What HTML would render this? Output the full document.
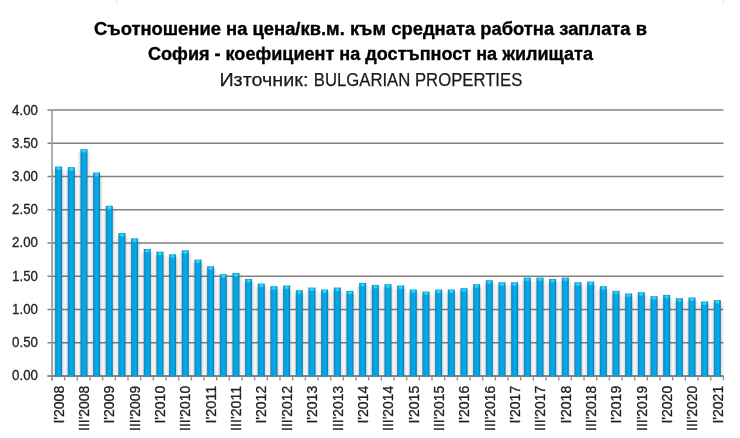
<!DOCTYPE html>
<html><head><meta charset="utf-8">
<style>
html,body{margin:0;padding:0;background:#fff;}
body{width:740px;height:438px;overflow:hidden;position:relative;}
svg{position:absolute;left:0;top:0;will-change:transform;}
text{font-family:"Liberation Sans",sans-serif;}
</style></head><body>
<svg width="740" height="438" viewBox="0 0 740 438">
<defs>
<linearGradient id="bar" x1="0" y1="0" x2="1" y2="0">
<stop offset="0" stop-color="#1f7fae"/>
<stop offset="0.2" stop-color="#0a9ad6"/>
<stop offset="0.45" stop-color="#02aaea"/>
<stop offset="0.7" stop-color="#03a8e8"/>
<stop offset="0.88" stop-color="#0b8cc4"/>
<stop offset="1" stop-color="#1c72a0"/>
</linearGradient>
<radialGradient id="cap" cx="0.5" cy="0.5" r="0.5">
<stop offset="0" stop-color="#34e6fc"/>
<stop offset="0.5" stop-color="#2cd8f6" stop-opacity="0.8"/>
<stop offset="1" stop-color="#20c8f0" stop-opacity="0"/>
</radialGradient>
<filter id="sh" x="-1" y="-0.1" width="3" height="1.2"><feGaussianBlur stdDeviation="1.6"/></filter>
</defs>

<text x="370.5" y="34.8" text-anchor="middle" font-weight="bold" font-size="18" fill="#000" stroke="#000" stroke-width="0.35" textLength="553" lengthAdjust="spacingAndGlyphs">Съотношение на цена/кв.м. към средната работна заплата в</text>
<text x="370.5" y="60.4" text-anchor="middle" font-weight="bold" font-size="18" fill="#000" stroke="#000" stroke-width="0.35" textLength="445" lengthAdjust="spacingAndGlyphs">София - коефициент на достъпност на жилищата</text>
<text x="219.4" y="85.7" font-size="18.5" fill="#1a1a1a" stroke="#1a1a1a" stroke-width="0.25" textLength="89" lengthAdjust="spacingAndGlyphs">Източник:</text>
<text x="313.8" y="85.7" font-size="18.5" fill="#1a1a1a" stroke="#1a1a1a" stroke-width="0.25" textLength="208.5" lengthAdjust="spacingAndGlyphs">BULGARIAN PROPERTIES</text>
<line x1="47.5" y1="376.00" x2="723.4" y2="376.00" stroke="#858080" stroke-width="1.3"/>
<text x="37.9" y="380.15" text-anchor="end" font-size="14.2" fill="#222" stroke="#222" stroke-width="0.3" textLength="25.8" lengthAdjust="spacingAndGlyphs">0.00</text>
<line x1="47.5" y1="342.75" x2="723.4" y2="342.75" stroke="#858080" stroke-width="1.3"/>
<text x="37.9" y="346.98" text-anchor="end" font-size="14.2" fill="#222" stroke="#222" stroke-width="0.3" textLength="25.8" lengthAdjust="spacingAndGlyphs">0.50</text>
<line x1="47.5" y1="309.50" x2="723.4" y2="309.50" stroke="#858080" stroke-width="1.3"/>
<text x="37.9" y="313.80" text-anchor="end" font-size="14.2" fill="#222" stroke="#222" stroke-width="0.3" textLength="25.8" lengthAdjust="spacingAndGlyphs">1.00</text>
<line x1="47.5" y1="276.25" x2="723.4" y2="276.25" stroke="#858080" stroke-width="1.3"/>
<text x="37.9" y="280.62" text-anchor="end" font-size="14.2" fill="#222" stroke="#222" stroke-width="0.3" textLength="25.8" lengthAdjust="spacingAndGlyphs">1.50</text>
<line x1="47.5" y1="243.00" x2="723.4" y2="243.00" stroke="#858080" stroke-width="1.3"/>
<text x="37.9" y="247.45" text-anchor="end" font-size="14.2" fill="#222" stroke="#222" stroke-width="0.3" textLength="25.8" lengthAdjust="spacingAndGlyphs">2.00</text>
<line x1="47.5" y1="209.75" x2="723.4" y2="209.75" stroke="#858080" stroke-width="1.3"/>
<text x="37.9" y="214.28" text-anchor="end" font-size="14.2" fill="#222" stroke="#222" stroke-width="0.3" textLength="25.8" lengthAdjust="spacingAndGlyphs">2.50</text>
<line x1="47.5" y1="176.50" x2="723.4" y2="176.50" stroke="#858080" stroke-width="1.3"/>
<text x="37.9" y="181.10" text-anchor="end" font-size="14.2" fill="#222" stroke="#222" stroke-width="0.3" textLength="25.8" lengthAdjust="spacingAndGlyphs">3.00</text>
<line x1="47.5" y1="143.25" x2="723.4" y2="143.25" stroke="#858080" stroke-width="1.3"/>
<text x="37.9" y="147.93" text-anchor="end" font-size="14.2" fill="#222" stroke="#222" stroke-width="0.3" textLength="25.8" lengthAdjust="spacingAndGlyphs">3.50</text>
<line x1="47.5" y1="110.00" x2="723.4" y2="110.00" stroke="#858080" stroke-width="1.3"/>
<text x="37.9" y="114.75" text-anchor="end" font-size="14.2" fill="#222" stroke="#222" stroke-width="0.3" textLength="25.8" lengthAdjust="spacingAndGlyphs">4.00</text>
<line x1="52.00" y1="376.0" x2="52.00" y2="380.5" stroke="#8f8f8f" stroke-width="1.3"/>
<line x1="64.67" y1="376.0" x2="64.67" y2="380.5" stroke="#8f8f8f" stroke-width="1.3"/>
<line x1="77.34" y1="376.0" x2="77.34" y2="380.5" stroke="#8f8f8f" stroke-width="1.3"/>
<line x1="90.00" y1="376.0" x2="90.00" y2="380.5" stroke="#8f8f8f" stroke-width="1.3"/>
<line x1="102.67" y1="376.0" x2="102.67" y2="380.5" stroke="#8f8f8f" stroke-width="1.3"/>
<line x1="115.34" y1="376.0" x2="115.34" y2="380.5" stroke="#8f8f8f" stroke-width="1.3"/>
<line x1="128.01" y1="376.0" x2="128.01" y2="380.5" stroke="#8f8f8f" stroke-width="1.3"/>
<line x1="140.68" y1="376.0" x2="140.68" y2="380.5" stroke="#8f8f8f" stroke-width="1.3"/>
<line x1="153.34" y1="376.0" x2="153.34" y2="380.5" stroke="#8f8f8f" stroke-width="1.3"/>
<line x1="166.01" y1="376.0" x2="166.01" y2="380.5" stroke="#8f8f8f" stroke-width="1.3"/>
<line x1="178.68" y1="376.0" x2="178.68" y2="380.5" stroke="#8f8f8f" stroke-width="1.3"/>
<line x1="191.35" y1="376.0" x2="191.35" y2="380.5" stroke="#8f8f8f" stroke-width="1.3"/>
<line x1="204.02" y1="376.0" x2="204.02" y2="380.5" stroke="#8f8f8f" stroke-width="1.3"/>
<line x1="216.68" y1="376.0" x2="216.68" y2="380.5" stroke="#8f8f8f" stroke-width="1.3"/>
<line x1="229.35" y1="376.0" x2="229.35" y2="380.5" stroke="#8f8f8f" stroke-width="1.3"/>
<line x1="242.02" y1="376.0" x2="242.02" y2="380.5" stroke="#8f8f8f" stroke-width="1.3"/>
<line x1="254.69" y1="376.0" x2="254.69" y2="380.5" stroke="#8f8f8f" stroke-width="1.3"/>
<line x1="267.36" y1="376.0" x2="267.36" y2="380.5" stroke="#8f8f8f" stroke-width="1.3"/>
<line x1="280.02" y1="376.0" x2="280.02" y2="380.5" stroke="#8f8f8f" stroke-width="1.3"/>
<line x1="292.69" y1="376.0" x2="292.69" y2="380.5" stroke="#8f8f8f" stroke-width="1.3"/>
<line x1="305.36" y1="376.0" x2="305.36" y2="380.5" stroke="#8f8f8f" stroke-width="1.3"/>
<line x1="318.03" y1="376.0" x2="318.03" y2="380.5" stroke="#8f8f8f" stroke-width="1.3"/>
<line x1="330.70" y1="376.0" x2="330.70" y2="380.5" stroke="#8f8f8f" stroke-width="1.3"/>
<line x1="343.36" y1="376.0" x2="343.36" y2="380.5" stroke="#8f8f8f" stroke-width="1.3"/>
<line x1="356.03" y1="376.0" x2="356.03" y2="380.5" stroke="#8f8f8f" stroke-width="1.3"/>
<line x1="368.70" y1="376.0" x2="368.70" y2="380.5" stroke="#8f8f8f" stroke-width="1.3"/>
<line x1="381.37" y1="376.0" x2="381.37" y2="380.5" stroke="#8f8f8f" stroke-width="1.3"/>
<line x1="394.04" y1="376.0" x2="394.04" y2="380.5" stroke="#8f8f8f" stroke-width="1.3"/>
<line x1="406.70" y1="376.0" x2="406.70" y2="380.5" stroke="#8f8f8f" stroke-width="1.3"/>
<line x1="419.37" y1="376.0" x2="419.37" y2="380.5" stroke="#8f8f8f" stroke-width="1.3"/>
<line x1="432.04" y1="376.0" x2="432.04" y2="380.5" stroke="#8f8f8f" stroke-width="1.3"/>
<line x1="444.71" y1="376.0" x2="444.71" y2="380.5" stroke="#8f8f8f" stroke-width="1.3"/>
<line x1="457.38" y1="376.0" x2="457.38" y2="380.5" stroke="#8f8f8f" stroke-width="1.3"/>
<line x1="470.04" y1="376.0" x2="470.04" y2="380.5" stroke="#8f8f8f" stroke-width="1.3"/>
<line x1="482.71" y1="376.0" x2="482.71" y2="380.5" stroke="#8f8f8f" stroke-width="1.3"/>
<line x1="495.38" y1="376.0" x2="495.38" y2="380.5" stroke="#8f8f8f" stroke-width="1.3"/>
<line x1="508.05" y1="376.0" x2="508.05" y2="380.5" stroke="#8f8f8f" stroke-width="1.3"/>
<line x1="520.72" y1="376.0" x2="520.72" y2="380.5" stroke="#8f8f8f" stroke-width="1.3"/>
<line x1="533.38" y1="376.0" x2="533.38" y2="380.5" stroke="#8f8f8f" stroke-width="1.3"/>
<line x1="546.05" y1="376.0" x2="546.05" y2="380.5" stroke="#8f8f8f" stroke-width="1.3"/>
<line x1="558.72" y1="376.0" x2="558.72" y2="380.5" stroke="#8f8f8f" stroke-width="1.3"/>
<line x1="571.39" y1="376.0" x2="571.39" y2="380.5" stroke="#8f8f8f" stroke-width="1.3"/>
<line x1="584.06" y1="376.0" x2="584.06" y2="380.5" stroke="#8f8f8f" stroke-width="1.3"/>
<line x1="596.72" y1="376.0" x2="596.72" y2="380.5" stroke="#8f8f8f" stroke-width="1.3"/>
<line x1="609.39" y1="376.0" x2="609.39" y2="380.5" stroke="#8f8f8f" stroke-width="1.3"/>
<line x1="622.06" y1="376.0" x2="622.06" y2="380.5" stroke="#8f8f8f" stroke-width="1.3"/>
<line x1="634.73" y1="376.0" x2="634.73" y2="380.5" stroke="#8f8f8f" stroke-width="1.3"/>
<line x1="647.40" y1="376.0" x2="647.40" y2="380.5" stroke="#8f8f8f" stroke-width="1.3"/>
<line x1="660.06" y1="376.0" x2="660.06" y2="380.5" stroke="#8f8f8f" stroke-width="1.3"/>
<line x1="672.73" y1="376.0" x2="672.73" y2="380.5" stroke="#8f8f8f" stroke-width="1.3"/>
<line x1="685.40" y1="376.0" x2="685.40" y2="380.5" stroke="#8f8f8f" stroke-width="1.3"/>
<line x1="698.07" y1="376.0" x2="698.07" y2="380.5" stroke="#8f8f8f" stroke-width="1.3"/>
<line x1="710.74" y1="376.0" x2="710.74" y2="380.5" stroke="#8f8f8f" stroke-width="1.3"/>
<line x1="723.40" y1="376.0" x2="723.40" y2="380.5" stroke="#8f8f8f" stroke-width="1.3"/>
<line x1="52.0" y1="110" x2="52.0" y2="380.5" stroke="#9a9a9a" stroke-width="1.6"/>
<line x1="47.5" y1="376.0" x2="723.4" y2="376.0" stroke="#8a8585" stroke-width="1.4"/>
<line x1="116.5" y1="0" x2="116.5" y2="4" stroke="#e2e2e2" stroke-width="1"/>
<line x1="723.5" y1="0" x2="723.5" y2="4" stroke="#e2e2e2" stroke-width="1"/>
<rect x="54.10" y="169.53" width="9.00" height="206.47" fill="#000" opacity="0.2" filter="url(#sh)"/>
<rect x="66.77" y="170.19" width="9.00" height="205.81" fill="#000" opacity="0.2" filter="url(#sh)"/>
<rect x="79.44" y="152.23" width="9.00" height="223.77" fill="#000" opacity="0.2" filter="url(#sh)"/>
<rect x="92.10" y="175.51" width="9.00" height="200.49" fill="#000" opacity="0.2" filter="url(#sh)"/>
<rect x="104.77" y="208.76" width="9.00" height="167.24" fill="#000" opacity="0.2" filter="url(#sh)"/>
<rect x="117.44" y="236.03" width="9.00" height="139.97" fill="#000" opacity="0.2" filter="url(#sh)"/>
<rect x="130.11" y="241.34" width="9.00" height="134.66" fill="#000" opacity="0.2" filter="url(#sh)"/>
<rect x="142.78" y="251.99" width="9.00" height="124.01" fill="#000" opacity="0.2" filter="url(#sh)"/>
<rect x="155.44" y="254.64" width="9.00" height="121.36" fill="#000" opacity="0.2" filter="url(#sh)"/>
<rect x="168.11" y="257.31" width="9.00" height="118.69" fill="#000" opacity="0.2" filter="url(#sh)"/>
<rect x="180.78" y="253.31" width="9.00" height="122.69" fill="#000" opacity="0.2" filter="url(#sh)"/>
<rect x="193.45" y="262.62" width="9.00" height="113.38" fill="#000" opacity="0.2" filter="url(#sh)"/>
<rect x="206.12" y="269.27" width="9.00" height="106.73" fill="#000" opacity="0.2" filter="url(#sh)"/>
<rect x="218.78" y="277.25" width="9.00" height="98.75" fill="#000" opacity="0.2" filter="url(#sh)"/>
<rect x="231.45" y="275.93" width="9.00" height="100.07" fill="#000" opacity="0.2" filter="url(#sh)"/>
<rect x="244.12" y="281.91" width="9.00" height="94.09" fill="#000" opacity="0.2" filter="url(#sh)"/>
<rect x="256.79" y="286.56" width="9.00" height="89.44" fill="#000" opacity="0.2" filter="url(#sh)"/>
<rect x="269.46" y="289.23" width="9.00" height="86.77" fill="#000" opacity="0.2" filter="url(#sh)"/>
<rect x="282.12" y="288.56" width="9.00" height="87.44" fill="#000" opacity="0.2" filter="url(#sh)"/>
<rect x="294.79" y="293.22" width="9.00" height="82.78" fill="#000" opacity="0.2" filter="url(#sh)"/>
<rect x="307.46" y="290.56" width="9.00" height="85.44" fill="#000" opacity="0.2" filter="url(#sh)"/>
<rect x="320.13" y="292.55" width="9.00" height="83.45" fill="#000" opacity="0.2" filter="url(#sh)"/>
<rect x="332.80" y="290.56" width="9.00" height="85.44" fill="#000" opacity="0.2" filter="url(#sh)"/>
<rect x="345.46" y="293.88" width="9.00" height="82.12" fill="#000" opacity="0.2" filter="url(#sh)"/>
<rect x="358.13" y="285.90" width="9.00" height="90.10" fill="#000" opacity="0.2" filter="url(#sh)"/>
<rect x="370.80" y="287.89" width="9.00" height="88.11" fill="#000" opacity="0.2" filter="url(#sh)"/>
<rect x="383.47" y="287.23" width="9.00" height="88.77" fill="#000" opacity="0.2" filter="url(#sh)"/>
<rect x="396.14" y="288.56" width="9.00" height="87.44" fill="#000" opacity="0.2" filter="url(#sh)"/>
<rect x="408.80" y="292.55" width="9.00" height="83.45" fill="#000" opacity="0.2" filter="url(#sh)"/>
<rect x="421.47" y="294.55" width="9.00" height="81.45" fill="#000" opacity="0.2" filter="url(#sh)"/>
<rect x="434.14" y="292.55" width="9.00" height="83.45" fill="#000" opacity="0.2" filter="url(#sh)"/>
<rect x="446.81" y="292.55" width="9.00" height="83.45" fill="#000" opacity="0.2" filter="url(#sh)"/>
<rect x="459.48" y="291.22" width="9.00" height="84.78" fill="#000" opacity="0.2" filter="url(#sh)"/>
<rect x="472.14" y="287.23" width="9.00" height="88.77" fill="#000" opacity="0.2" filter="url(#sh)"/>
<rect x="484.81" y="283.24" width="9.00" height="92.76" fill="#000" opacity="0.2" filter="url(#sh)"/>
<rect x="497.48" y="285.24" width="9.00" height="90.76" fill="#000" opacity="0.2" filter="url(#sh)"/>
<rect x="510.15" y="285.24" width="9.00" height="90.76" fill="#000" opacity="0.2" filter="url(#sh)"/>
<rect x="522.82" y="280.58" width="9.00" height="95.42" fill="#000" opacity="0.2" filter="url(#sh)"/>
<rect x="535.48" y="280.58" width="9.00" height="95.42" fill="#000" opacity="0.2" filter="url(#sh)"/>
<rect x="548.15" y="281.91" width="9.00" height="94.09" fill="#000" opacity="0.2" filter="url(#sh)"/>
<rect x="560.82" y="280.58" width="9.00" height="95.42" fill="#000" opacity="0.2" filter="url(#sh)"/>
<rect x="573.49" y="285.24" width="9.00" height="90.76" fill="#000" opacity="0.2" filter="url(#sh)"/>
<rect x="586.16" y="284.57" width="9.00" height="91.43" fill="#000" opacity="0.2" filter="url(#sh)"/>
<rect x="598.82" y="289.23" width="9.00" height="86.77" fill="#000" opacity="0.2" filter="url(#sh)"/>
<rect x="611.49" y="293.88" width="9.00" height="82.12" fill="#000" opacity="0.2" filter="url(#sh)"/>
<rect x="624.16" y="296.54" width="9.00" height="79.46" fill="#000" opacity="0.2" filter="url(#sh)"/>
<rect x="636.83" y="295.21" width="9.00" height="80.79" fill="#000" opacity="0.2" filter="url(#sh)"/>
<rect x="649.50" y="299.20" width="9.00" height="76.80" fill="#000" opacity="0.2" filter="url(#sh)"/>
<rect x="662.16" y="297.87" width="9.00" height="78.13" fill="#000" opacity="0.2" filter="url(#sh)"/>
<rect x="674.83" y="301.19" width="9.00" height="74.81" fill="#000" opacity="0.2" filter="url(#sh)"/>
<rect x="687.50" y="300.53" width="9.00" height="75.47" fill="#000" opacity="0.2" filter="url(#sh)"/>
<rect x="700.17" y="304.52" width="9.00" height="71.48" fill="#000" opacity="0.2" filter="url(#sh)"/>
<rect x="712.84" y="303.19" width="9.00" height="72.81" fill="#000" opacity="0.2" filter="url(#sh)"/>
<rect x="55.10" y="166.53" width="7.00" height="209.97" fill="url(#bar)"/>
<ellipse cx="58.60" cy="168.53" rx="3.2" ry="2.2" fill="url(#cap)"/>
<rect x="67.77" y="167.19" width="7.00" height="209.31" fill="url(#bar)"/>
<ellipse cx="71.27" cy="169.19" rx="3.2" ry="2.2" fill="url(#cap)"/>
<rect x="80.44" y="149.23" width="7.00" height="227.27" fill="url(#bar)"/>
<ellipse cx="83.94" cy="151.23" rx="3.2" ry="2.2" fill="url(#cap)"/>
<rect x="93.10" y="172.51" width="7.00" height="203.99" fill="url(#bar)"/>
<ellipse cx="96.60" cy="174.51" rx="3.2" ry="2.2" fill="url(#cap)"/>
<rect x="105.77" y="205.76" width="7.00" height="170.74" fill="url(#bar)"/>
<ellipse cx="109.27" cy="207.76" rx="3.2" ry="2.2" fill="url(#cap)"/>
<rect x="118.44" y="233.03" width="7.00" height="143.47" fill="url(#bar)"/>
<ellipse cx="121.94" cy="235.03" rx="3.2" ry="2.2" fill="url(#cap)"/>
<rect x="131.11" y="238.34" width="7.00" height="138.16" fill="url(#bar)"/>
<ellipse cx="134.61" cy="240.34" rx="3.2" ry="2.2" fill="url(#cap)"/>
<rect x="143.78" y="248.99" width="7.00" height="127.51" fill="url(#bar)"/>
<ellipse cx="147.28" cy="250.99" rx="3.2" ry="2.2" fill="url(#cap)"/>
<rect x="156.44" y="251.64" width="7.00" height="124.86" fill="url(#bar)"/>
<ellipse cx="159.94" cy="253.64" rx="3.2" ry="2.2" fill="url(#cap)"/>
<rect x="169.11" y="254.31" width="7.00" height="122.19" fill="url(#bar)"/>
<ellipse cx="172.61" cy="256.31" rx="3.2" ry="2.2" fill="url(#cap)"/>
<rect x="181.78" y="250.31" width="7.00" height="126.19" fill="url(#bar)"/>
<ellipse cx="185.28" cy="252.31" rx="3.2" ry="2.2" fill="url(#cap)"/>
<rect x="194.45" y="259.62" width="7.00" height="116.88" fill="url(#bar)"/>
<ellipse cx="197.95" cy="261.62" rx="3.2" ry="2.2" fill="url(#cap)"/>
<rect x="207.12" y="266.27" width="7.00" height="110.23" fill="url(#bar)"/>
<ellipse cx="210.62" cy="268.27" rx="3.2" ry="2.2" fill="url(#cap)"/>
<rect x="219.78" y="274.25" width="7.00" height="102.25" fill="url(#bar)"/>
<ellipse cx="223.28" cy="276.25" rx="3.2" ry="2.2" fill="url(#cap)"/>
<rect x="232.45" y="272.93" width="7.00" height="103.57" fill="url(#bar)"/>
<ellipse cx="235.95" cy="274.93" rx="3.2" ry="2.2" fill="url(#cap)"/>
<rect x="245.12" y="278.91" width="7.00" height="97.59" fill="url(#bar)"/>
<ellipse cx="248.62" cy="280.91" rx="3.2" ry="2.2" fill="url(#cap)"/>
<rect x="257.79" y="283.56" width="7.00" height="92.94" fill="url(#bar)"/>
<ellipse cx="261.29" cy="285.56" rx="3.2" ry="2.2" fill="url(#cap)"/>
<rect x="270.46" y="286.23" width="7.00" height="90.27" fill="url(#bar)"/>
<ellipse cx="273.96" cy="288.23" rx="3.2" ry="2.2" fill="url(#cap)"/>
<rect x="283.12" y="285.56" width="7.00" height="90.94" fill="url(#bar)"/>
<ellipse cx="286.62" cy="287.56" rx="3.2" ry="2.2" fill="url(#cap)"/>
<rect x="295.79" y="290.22" width="7.00" height="86.28" fill="url(#bar)"/>
<ellipse cx="299.29" cy="292.22" rx="3.2" ry="2.2" fill="url(#cap)"/>
<rect x="308.46" y="287.56" width="7.00" height="88.94" fill="url(#bar)"/>
<ellipse cx="311.96" cy="289.56" rx="3.2" ry="2.2" fill="url(#cap)"/>
<rect x="321.13" y="289.55" width="7.00" height="86.95" fill="url(#bar)"/>
<ellipse cx="324.63" cy="291.55" rx="3.2" ry="2.2" fill="url(#cap)"/>
<rect x="333.80" y="287.56" width="7.00" height="88.94" fill="url(#bar)"/>
<ellipse cx="337.30" cy="289.56" rx="3.2" ry="2.2" fill="url(#cap)"/>
<rect x="346.46" y="290.88" width="7.00" height="85.62" fill="url(#bar)"/>
<ellipse cx="349.96" cy="292.88" rx="3.2" ry="2.2" fill="url(#cap)"/>
<rect x="359.13" y="282.90" width="7.00" height="93.60" fill="url(#bar)"/>
<ellipse cx="362.63" cy="284.90" rx="3.2" ry="2.2" fill="url(#cap)"/>
<rect x="371.80" y="284.89" width="7.00" height="91.61" fill="url(#bar)"/>
<ellipse cx="375.30" cy="286.89" rx="3.2" ry="2.2" fill="url(#cap)"/>
<rect x="384.47" y="284.23" width="7.00" height="92.27" fill="url(#bar)"/>
<ellipse cx="387.97" cy="286.23" rx="3.2" ry="2.2" fill="url(#cap)"/>
<rect x="397.14" y="285.56" width="7.00" height="90.94" fill="url(#bar)"/>
<ellipse cx="400.64" cy="287.56" rx="3.2" ry="2.2" fill="url(#cap)"/>
<rect x="409.80" y="289.55" width="7.00" height="86.95" fill="url(#bar)"/>
<ellipse cx="413.30" cy="291.55" rx="3.2" ry="2.2" fill="url(#cap)"/>
<rect x="422.47" y="291.55" width="7.00" height="84.95" fill="url(#bar)"/>
<ellipse cx="425.97" cy="293.55" rx="3.2" ry="2.2" fill="url(#cap)"/>
<rect x="435.14" y="289.55" width="7.00" height="86.95" fill="url(#bar)"/>
<ellipse cx="438.64" cy="291.55" rx="3.2" ry="2.2" fill="url(#cap)"/>
<rect x="447.81" y="289.55" width="7.00" height="86.95" fill="url(#bar)"/>
<ellipse cx="451.31" cy="291.55" rx="3.2" ry="2.2" fill="url(#cap)"/>
<rect x="460.48" y="288.22" width="7.00" height="88.28" fill="url(#bar)"/>
<ellipse cx="463.98" cy="290.22" rx="3.2" ry="2.2" fill="url(#cap)"/>
<rect x="473.14" y="284.23" width="7.00" height="92.27" fill="url(#bar)"/>
<ellipse cx="476.64" cy="286.23" rx="3.2" ry="2.2" fill="url(#cap)"/>
<rect x="485.81" y="280.24" width="7.00" height="96.26" fill="url(#bar)"/>
<ellipse cx="489.31" cy="282.24" rx="3.2" ry="2.2" fill="url(#cap)"/>
<rect x="498.48" y="282.24" width="7.00" height="94.26" fill="url(#bar)"/>
<ellipse cx="501.98" cy="284.24" rx="3.2" ry="2.2" fill="url(#cap)"/>
<rect x="511.15" y="282.24" width="7.00" height="94.26" fill="url(#bar)"/>
<ellipse cx="514.65" cy="284.24" rx="3.2" ry="2.2" fill="url(#cap)"/>
<rect x="523.82" y="277.58" width="7.00" height="98.92" fill="url(#bar)"/>
<ellipse cx="527.32" cy="279.58" rx="3.2" ry="2.2" fill="url(#cap)"/>
<rect x="536.48" y="277.58" width="7.00" height="98.92" fill="url(#bar)"/>
<ellipse cx="539.98" cy="279.58" rx="3.2" ry="2.2" fill="url(#cap)"/>
<rect x="549.15" y="278.91" width="7.00" height="97.59" fill="url(#bar)"/>
<ellipse cx="552.65" cy="280.91" rx="3.2" ry="2.2" fill="url(#cap)"/>
<rect x="561.82" y="277.58" width="7.00" height="98.92" fill="url(#bar)"/>
<ellipse cx="565.32" cy="279.58" rx="3.2" ry="2.2" fill="url(#cap)"/>
<rect x="574.49" y="282.24" width="7.00" height="94.26" fill="url(#bar)"/>
<ellipse cx="577.99" cy="284.24" rx="3.2" ry="2.2" fill="url(#cap)"/>
<rect x="587.16" y="281.57" width="7.00" height="94.93" fill="url(#bar)"/>
<ellipse cx="590.66" cy="283.57" rx="3.2" ry="2.2" fill="url(#cap)"/>
<rect x="599.82" y="286.23" width="7.00" height="90.27" fill="url(#bar)"/>
<ellipse cx="603.32" cy="288.23" rx="3.2" ry="2.2" fill="url(#cap)"/>
<rect x="612.49" y="290.88" width="7.00" height="85.62" fill="url(#bar)"/>
<ellipse cx="615.99" cy="292.88" rx="3.2" ry="2.2" fill="url(#cap)"/>
<rect x="625.16" y="293.54" width="7.00" height="82.96" fill="url(#bar)"/>
<ellipse cx="628.66" cy="295.54" rx="3.2" ry="2.2" fill="url(#cap)"/>
<rect x="637.83" y="292.21" width="7.00" height="84.29" fill="url(#bar)"/>
<ellipse cx="641.33" cy="294.21" rx="3.2" ry="2.2" fill="url(#cap)"/>
<rect x="650.50" y="296.20" width="7.00" height="80.30" fill="url(#bar)"/>
<ellipse cx="654.00" cy="298.20" rx="3.2" ry="2.2" fill="url(#cap)"/>
<rect x="663.16" y="294.87" width="7.00" height="81.63" fill="url(#bar)"/>
<ellipse cx="666.66" cy="296.87" rx="3.2" ry="2.2" fill="url(#cap)"/>
<rect x="675.83" y="298.19" width="7.00" height="78.31" fill="url(#bar)"/>
<ellipse cx="679.33" cy="300.19" rx="3.2" ry="2.2" fill="url(#cap)"/>
<rect x="688.50" y="297.53" width="7.00" height="78.97" fill="url(#bar)"/>
<ellipse cx="692.00" cy="299.53" rx="3.2" ry="2.2" fill="url(#cap)"/>
<rect x="701.17" y="301.52" width="7.00" height="74.98" fill="url(#bar)"/>
<ellipse cx="704.67" cy="303.52" rx="3.2" ry="2.2" fill="url(#cap)"/>
<rect x="713.84" y="300.19" width="7.00" height="76.31" fill="url(#bar)"/>
<ellipse cx="717.34" cy="302.19" rx="3.2" ry="2.2" fill="url(#cap)"/>
<text transform="translate(63.80,385.8) rotate(-90)" text-anchor="end" font-size="13.9" fill="#222" stroke="#222" stroke-width="0.3" textLength="37.8" lengthAdjust="spacingAndGlyphs">I'2008</text>
<text transform="translate(89.14,385.8) rotate(-90)" text-anchor="end" font-size="13.9" fill="#222" stroke="#222" stroke-width="0.3" textLength="45.1" lengthAdjust="spacingAndGlyphs">III'2008</text>
<text transform="translate(114.47,385.8) rotate(-90)" text-anchor="end" font-size="13.9" fill="#222" stroke="#222" stroke-width="0.3" textLength="37.8" lengthAdjust="spacingAndGlyphs">I'2009</text>
<text transform="translate(139.81,385.8) rotate(-90)" text-anchor="end" font-size="13.9" fill="#222" stroke="#222" stroke-width="0.3" textLength="45.1" lengthAdjust="spacingAndGlyphs">III'2009</text>
<text transform="translate(165.14,385.8) rotate(-90)" text-anchor="end" font-size="13.9" fill="#222" stroke="#222" stroke-width="0.3" textLength="37.8" lengthAdjust="spacingAndGlyphs">I'2010</text>
<text transform="translate(190.48,385.8) rotate(-90)" text-anchor="end" font-size="13.9" fill="#222" stroke="#222" stroke-width="0.3" textLength="45.1" lengthAdjust="spacingAndGlyphs">III'2010</text>
<text transform="translate(215.82,385.8) rotate(-90)" text-anchor="end" font-size="13.9" fill="#222" stroke="#222" stroke-width="0.3" textLength="37.8" lengthAdjust="spacingAndGlyphs">I'2011</text>
<text transform="translate(241.15,385.8) rotate(-90)" text-anchor="end" font-size="13.9" fill="#222" stroke="#222" stroke-width="0.3" textLength="45.1" lengthAdjust="spacingAndGlyphs">III'2011</text>
<text transform="translate(266.49,385.8) rotate(-90)" text-anchor="end" font-size="13.9" fill="#222" stroke="#222" stroke-width="0.3" textLength="37.8" lengthAdjust="spacingAndGlyphs">I'2012</text>
<text transform="translate(291.82,385.8) rotate(-90)" text-anchor="end" font-size="13.9" fill="#222" stroke="#222" stroke-width="0.3" textLength="45.1" lengthAdjust="spacingAndGlyphs">III'2012</text>
<text transform="translate(317.16,385.8) rotate(-90)" text-anchor="end" font-size="13.9" fill="#222" stroke="#222" stroke-width="0.3" textLength="37.8" lengthAdjust="spacingAndGlyphs">I'2013</text>
<text transform="translate(342.50,385.8) rotate(-90)" text-anchor="end" font-size="13.9" fill="#222" stroke="#222" stroke-width="0.3" textLength="45.1" lengthAdjust="spacingAndGlyphs">III'2013</text>
<text transform="translate(367.83,385.8) rotate(-90)" text-anchor="end" font-size="13.9" fill="#222" stroke="#222" stroke-width="0.3" textLength="37.8" lengthAdjust="spacingAndGlyphs">I'2014</text>
<text transform="translate(393.17,385.8) rotate(-90)" text-anchor="end" font-size="13.9" fill="#222" stroke="#222" stroke-width="0.3" textLength="45.1" lengthAdjust="spacingAndGlyphs">III'2014</text>
<text transform="translate(418.50,385.8) rotate(-90)" text-anchor="end" font-size="13.9" fill="#222" stroke="#222" stroke-width="0.3" textLength="37.8" lengthAdjust="spacingAndGlyphs">I'2015</text>
<text transform="translate(443.84,385.8) rotate(-90)" text-anchor="end" font-size="13.9" fill="#222" stroke="#222" stroke-width="0.3" textLength="45.1" lengthAdjust="spacingAndGlyphs">III'2015</text>
<text transform="translate(469.18,385.8) rotate(-90)" text-anchor="end" font-size="13.9" fill="#222" stroke="#222" stroke-width="0.3" textLength="37.8" lengthAdjust="spacingAndGlyphs">I'2016</text>
<text transform="translate(494.51,385.8) rotate(-90)" text-anchor="end" font-size="13.9" fill="#222" stroke="#222" stroke-width="0.3" textLength="45.1" lengthAdjust="spacingAndGlyphs">III'2016</text>
<text transform="translate(519.85,385.8) rotate(-90)" text-anchor="end" font-size="13.9" fill="#222" stroke="#222" stroke-width="0.3" textLength="37.8" lengthAdjust="spacingAndGlyphs">I'2017</text>
<text transform="translate(545.18,385.8) rotate(-90)" text-anchor="end" font-size="13.9" fill="#222" stroke="#222" stroke-width="0.3" textLength="45.1" lengthAdjust="spacingAndGlyphs">III'2017</text>
<text transform="translate(570.52,385.8) rotate(-90)" text-anchor="end" font-size="13.9" fill="#222" stroke="#222" stroke-width="0.3" textLength="37.8" lengthAdjust="spacingAndGlyphs">I'2018</text>
<text transform="translate(595.86,385.8) rotate(-90)" text-anchor="end" font-size="13.9" fill="#222" stroke="#222" stroke-width="0.3" textLength="45.1" lengthAdjust="spacingAndGlyphs">III'2018</text>
<text transform="translate(621.19,385.8) rotate(-90)" text-anchor="end" font-size="13.9" fill="#222" stroke="#222" stroke-width="0.3" textLength="37.8" lengthAdjust="spacingAndGlyphs">I'2019</text>
<text transform="translate(646.53,385.8) rotate(-90)" text-anchor="end" font-size="13.9" fill="#222" stroke="#222" stroke-width="0.3" textLength="45.1" lengthAdjust="spacingAndGlyphs">III'2019</text>
<text transform="translate(671.86,385.8) rotate(-90)" text-anchor="end" font-size="13.9" fill="#222" stroke="#222" stroke-width="0.3" textLength="37.8" lengthAdjust="spacingAndGlyphs">I'2020</text>
<text transform="translate(697.20,385.8) rotate(-90)" text-anchor="end" font-size="13.9" fill="#222" stroke="#222" stroke-width="0.3" textLength="45.1" lengthAdjust="spacingAndGlyphs">III'2020</text>
<text transform="translate(722.54,385.8) rotate(-90)" text-anchor="end" font-size="13.9" fill="#222" stroke="#222" stroke-width="0.3" textLength="37.8" lengthAdjust="spacingAndGlyphs">I'2021</text>
</svg></body></html>
